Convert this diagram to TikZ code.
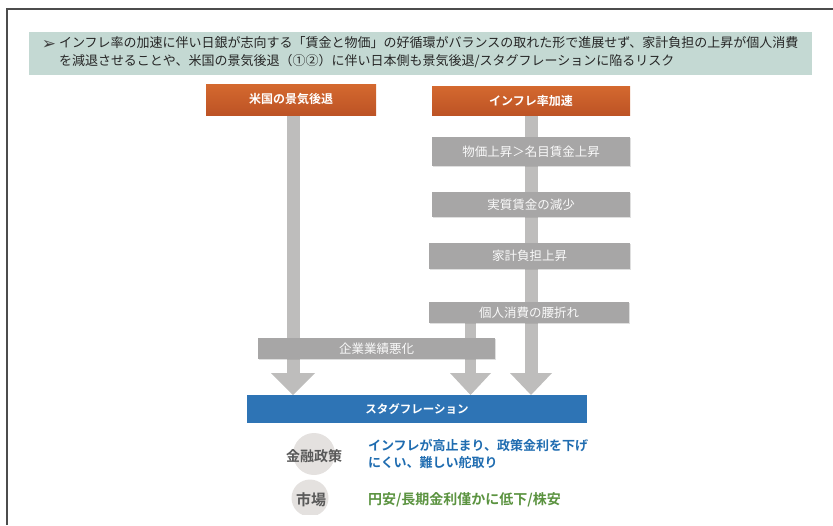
\documentclass[tikz,border=0pt]{standalone}
\usepackage{fontspec}
\newfontfamily\jp{Noto Sans CJK JP}[BoldFont={Noto Sans CJK JP Bold}]
\newfontfamily\dv{DejaVu Sans}
\usetikzlibrary{arrows.meta,backgrounds,shadows}
\definecolor{band}{HTML}{C4D9D3}
\definecolor{orgtop}{HTML}{D4692F}
\definecolor{orgbot}{HTML}{BD5325}
\definecolor{graybox}{HTML}{A7A6A6}
\definecolor{shaftc}{HTML}{BEBDBC}
\definecolor{stagc}{HTML}{2E74B5}
\definecolor{circc}{HTML}{E4E1DF}
\definecolor{bluetxt}{HTML}{1F6CB0}
\definecolor{greentxt}{HTML}{5B9340}
\definecolor{labgray}{HTML}{595959}
\begin{document}
\begin{tikzpicture}[x=1pt,y=-1pt,
  every node/.style={inner sep=0pt, outer sep=0pt, font=\jp},
  orangebox/.style={anchor=north west, top color=orgtop, bottom color=orgbot, draw=none,
    text=white, font=\jp\bfseries\fontsize{12}{14}\selectfont},
  graystep/.style={anchor=north west, fill=graybox, text=white!95!gray,
    drop shadow={opacity=0.25, shadow xshift=1pt, shadow yshift=-1pt},
    font=\jp\fontsize{12.5}{14}\selectfont},
  shaft/.style={draw=shaftc, line width=#1},
  lab/.style={circle, fill=circc, minimum size=#1},
]
\useasboundingbox (0,0) rectangle (833,525);
% frame
\draw[line width=1.3pt, draw=black!70] (7,525) -- (7,9) -- (833,9);
% header band
\fill[band] (29,32) rectangle (812,75);
\node[font=\dv\fontsize{17}{17}\selectfont, text=black!75] (bullet) at (49,45) {➢};
\node[anchor=north west, align=left, text=black!85, font=\jp\fontsize{13}{18}\selectfont] (head) at (59,36.5)
  {インフレ率の加速に伴い日銀が志向する「賃金と物価」の好循環がバランスの取れた形で進展せず、家計負担の上昇が個人消費\\
   を減退させることや、米国の景気後退（①②）に伴い日本側も景気後退/スタグフレーションに陥るリスク};
% top boxes
\node[orangebox, minimum width=170pt, minimum height=31pt] (usa) at (206,84) {米国の景気後退};
\node[orangebox, minimum width=198pt, minimum height=29pt] (infl) at (432,86) {インフレ率加速};
% gray steps
\node[graystep, minimum width=198pt, minimum height=29pt] (s1) at (432,137) {物価上昇＞名目賃金上昇};
\node[graystep, minimum width=198pt, minimum height=25pt] (s2) at (432,192) {実質賃金の減少};
\node[graystep, minimum width=201pt, minimum height=26pt] (s3) at (429,243) {家計負担上昇};
\node[graystep, minimum width=200pt, minimum height=21pt] (s4) at (429,302) {個人消費の腰折れ};
\node[graystep, minimum width=237pt, minimum height=21pt] (corp) at (258,338) {企業業績悪化};
% stagflation
\node[anchor=north west, fill=stagc, minimum width=340pt, minimum height=28pt, text=white,
  font=\jp\bfseries\fontsize{11.5}{14}\selectfont] (stag) at (247,395) {スタグフレーション};
\coordinate (mid) at (470.5,323);
% arrows behind
\begin{scope}[on background layer]
  \draw[shaft=13pt, -{Triangle[width=44pt,length=22pt,line width=0pt]}] ([xshift=2pt]usa.south) -- ([xshift=2pt]usa.south |- stag.north);
  \draw[shaft=11pt, -{Triangle[width=41pt,length=22pt,line width=0pt]}] (mid) -- (mid |- stag.north);
  \draw[shaft=13pt, -{Triangle[width=42pt,length=22pt,line width=0pt]}] (infl.south) -- (infl.south |- stag.north);
\end{scope}
% bottom labels
\begin{scope}
  \clip (0,0) rectangle (833,514);
  \node[lab=42pt] (c1) at (314,454) {};
  \node[lab=37pt] (c2) at (310,498) {};
\end{scope}
\node[text=labgray, font=\jp\bfseries\fontsize{14}{16}\selectfont] (mp) at (314,456) {金融政策};
\node[text=labgray, font=\jp\bfseries\fontsize{15}{16}\selectfont] (mk) at (311,500) {市場};
\node[anchor=west, align=left, text=bluetxt, font=\jp\bfseries\fontsize{13}{17}\selectfont] (mptxt) at (368,453.5)
  {インフレが高止まり、政策金利を下げ\\にくい、難しい舵取り};
\node[anchor=west, text=greentxt, font=\jp\bfseries\fontsize{14}{16}\selectfont] (mktxt) at (368,500)
  {円安/長期金利僅かに低下/株安};
\end{tikzpicture}
\end{document}
